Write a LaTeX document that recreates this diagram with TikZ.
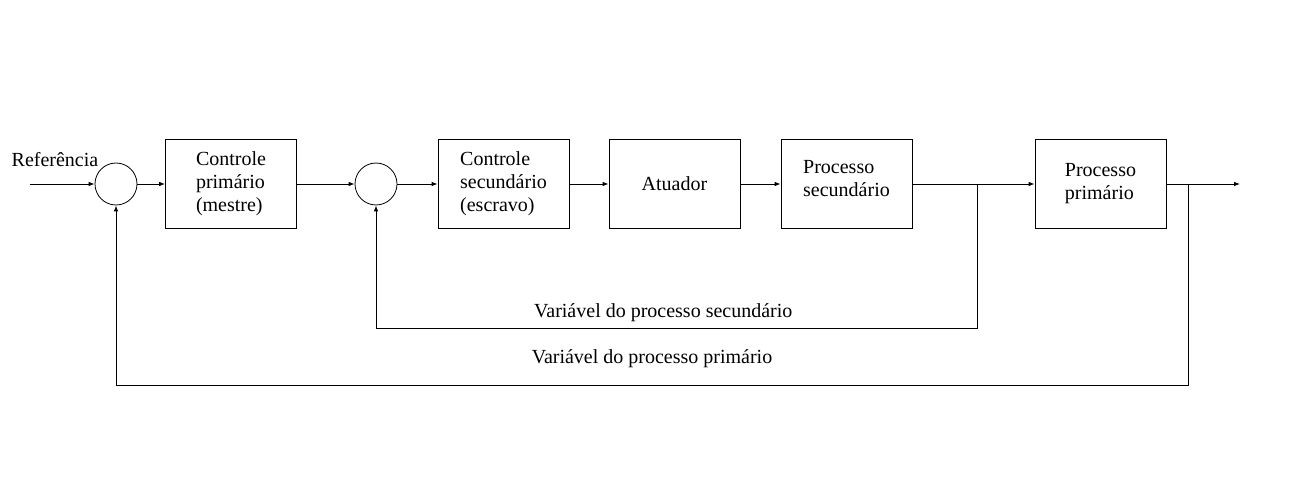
\documentclass[tikz,border=0pt]{standalone}
\usepackage{fontspec}
\setmainfont{Liberation Serif}
\usetikzlibrary{arrows.meta, positioning}

\tikzset{
  block/.style={draw, line width=0.8pt, minimum width=131pt, minimum height=89pt, align=left},
  sum/.style={draw, circle, line width=0.8pt, minimum size=42pt, inner sep=0pt},
  sig/.style={line width=0.8pt, -{Latex[length=6pt, width=4.5pt]}},
  lbl/.style={inner sep=0pt}
}

\begin{document}
\begin{tikzpicture}[x=1pt, y=-1pt, node distance=120pt, on grid, auto,
  font=\fontsize{20}{23}\selectfont]
  \useasboundingbox (0,0) rectangle (1294,494);

  \node[sum] (sum_1) at (116,184) {};
  \node[block] (ctrl_p) [right=115pt of sum_1] {Controle\\primário\\(mestre)};
  \node[sum] (sum_2) [right=145pt of ctrl_p] {};
  \node[block] (ctrl_s) [right=127.5pt of sum_2] {Controle\\secundário\\(escravo)};
  \node[block] (act) [right=171pt of ctrl_s] {Atuador};
  \node[block, text depth=12pt] (proc_s) [right=172pt of act] {Processo\\secundário};
  \node[block] (proc_p) [right=254pt of proc_s] {Processo\\primário};

  \coordinate (ref) at (30,184);
  \coordinate (out) at (1240,184);
  \coordinate (br_s) at (977,184);
  \coordinate (br_p) at (1188,184);

  \node[lbl] (ref_txt) at (55,160) {Referência};

  \draw[sig] (ref) -- (sum_1);
  \draw[sig] (sum_1) -- (ctrl_p);
  \draw[sig] (ctrl_p) -- (sum_2);
  \draw[sig] (sum_2) -- (ctrl_s);
  \draw[sig] (ctrl_s) -- (act);
  \draw[sig] (act) -- (proc_s);
  \draw[sig] (proc_s) -- (proc_p);
  \draw[sig] (proc_p) -- (out);

  % feedback loops
  \draw[sig] (br_s) -- ++(0,144) -| node[pos=0.261, above=3pt] {Variável do processo secundário} (sum_2.south);
  \draw[sig] (br_p) -- ++(0,201) -| node[pos=0.25, above=14pt] {Variável do processo primário} (sum_1.south);
\end{tikzpicture}
\end{document}
